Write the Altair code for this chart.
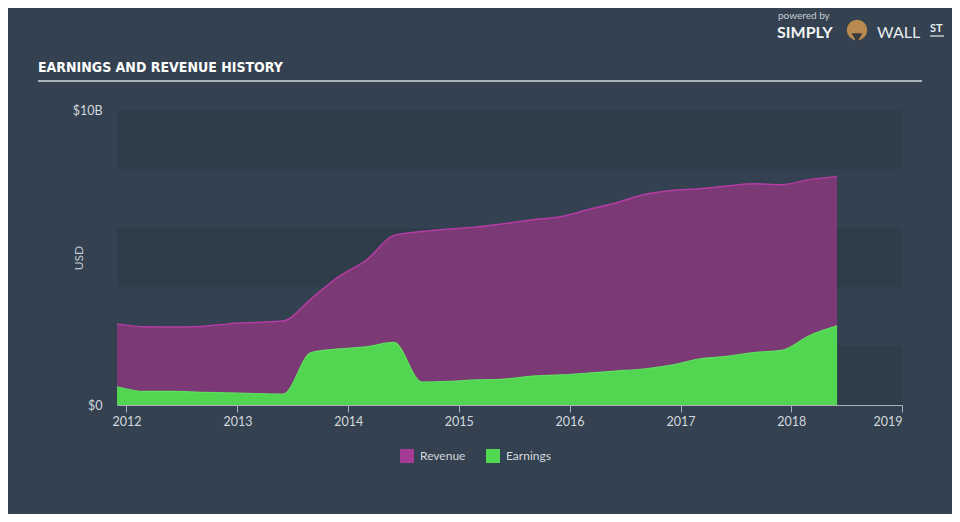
import altair as alt
import pandas as pd

# ---- data (values in billions USD) ----
dates = ["2011-12-01", "2012-03-01", "2012-06-01", "2012-09-01", "2012-12-01",
         "2013-03-01", "2013-06-01", "2013-09-01", "2013-12-01", "2014-03-01",
         "2014-06-01", "2014-09-01", "2014-12-01", "2015-03-01", "2015-06-01",
         "2015-09-01", "2015-12-01", "2016-03-01", "2016-06-01", "2016-09-01",
         "2016-12-01", "2017-03-01", "2017-06-01", "2017-09-01", "2017-12-01",
         "2018-03-01", "2018-06-01"]
revenue = [2.75, 2.65, 2.64, 2.66, 2.75, 2.80, 2.85, 3.60, 4.35, 4.90,
           5.75, 5.88, 5.97, 6.03, 6.15, 6.28, 6.38, 6.62, 6.85, 7.13,
           7.27, 7.33, 7.42, 7.50, 7.47, 7.64, 7.75]
earnings = [0.62, 0.46, 0.46, 0.43, 0.41, 0.39, 0.37, 1.78, 1.90, 1.97,
            2.12, 0.78, 0.80, 0.85, 0.88, 0.98, 1.02, 1.08, 1.15, 1.22,
            1.35, 1.56, 1.65, 1.78, 1.85, 2.35, 2.68]
series_names = ["Revenue", "Earnings"]
series_colors = ["#a33a94", "#53d853"]
band_lo = [0, 4, 8]
band_hi = [2, 6, 10]
y_ticks = [0, 10]
x_domain = ["2011-12-01", "2019-01-01"]
chart_title = "EARNINGS AND REVENUE HISTORY"

BG = "#334150"
BAND = "#2f3c4a"
FONT = "Lato, Open Sans, sans-serif"

df = pd.DataFrame({"date": pd.to_datetime(dates), "Revenue": revenue, "Earnings": earnings})
bands = pd.DataFrame({"lo": band_lo, "hi": band_hi})
legend_df = pd.DataFrame({"series": series_names, "date": pd.to_datetime([dates[0]] * 2), "v": [0, 0]})
one = legend_df.head(1)

W, H = 785, 295

x_scale = alt.Scale(domain=[pd.Timestamp(x_domain[0]).isoformat(), pd.Timestamp(x_domain[1]).isoformat()])
y_scale = alt.Scale(domain=[0, 10], nice=False)

x_axis = alt.Axis(format="%Y", tickCount={"interval": "year", "step": 1}, grid=False,
                  labelColor="#d3d8dd", labelFont=FONT, labelFontSize=12.5,
                  tickColor="#a9b1ba", domainColor="#a9b1ba", tickSize=7,
                  labelPadding=3, title=None)
y_axis = alt.Axis(values=y_ticks, labelExpr="datum.value == 0 ? '$0' : '$' + datum.value + 'B'",
                  grid=False, domain=False, ticks=False, labelPadding=15,
                  labelColor="#d3d8dd", labelFont=FONT, labelFontSize=12.5,
                  title="USD", titleColor="#c3c9cf", titleFont=FONT, titleFontSize=12,
                  titleFontWeight="normal", titleX=-32, titleAngle=-90)

band_layer = alt.Chart(bands).mark_rect(color=BAND).encode(
    x=alt.value(0), x2=alt.value("width"),
    y=alt.Y("lo:Q", scale=y_scale, axis=y_axis), y2="hi:Q")

rev_layer = alt.Chart(df).mark_area(
    interpolate="monotone", color="#7b3a76", opacity=1, fillOpacity=1,
    line={"color": "#b43ca3", "strokeWidth": 1.5, "opacity": 1}).encode(
    x=alt.X("date:T", scale=x_scale, axis=x_axis),
    y=alt.Y("Revenue:Q", scale=y_scale))

earn_layer = alt.Chart(df).mark_area(
    interpolate="monotone", color="#52d652", opacity=1, fillOpacity=1,
    line={"color": "#5ee05e", "strokeWidth": 1.2, "opacity": 1}).encode(
    x=alt.X("date:T", scale=x_scale),
    y=alt.Y("Earnings:Q", scale=y_scale))

legend_layer = alt.Chart(legend_df).mark_point(shape="square", filled=True, opacity=0).encode(
    x=alt.X("date:T", scale=x_scale),
    y=alt.Y("v:Q", scale=y_scale),
    color=alt.Color("series:N", scale=alt.Scale(domain=series_names, range=series_colors),
                    sort=series_names,
                    legend=alt.Legend(title=None, orient="none", direction="horizontal",
                                      legendX=283, legendY=339, symbolType="square",
                                      symbolSize=196, symbolOpacity=1, symbolStrokeWidth=0,
                                      labelColor="#d3d8dd", labelFont=FONT, labelFontSize=12,
                                      labelOffset=6, columnPadding=20)))

title_text = alt.Chart(one).mark_text(
    text=chart_title, align="left", baseline="middle", color="#ffffff",
    font="DejaVu Sans Condensed, sans-serif",
    fontSize=14, fontWeight="bold").encode(x=alt.value(-79), y=alt.value(-42))

title_rule = alt.Chart(one).mark_rule(color="#a9b1ba", strokeWidth=2).encode(
    x=alt.value(-79), x2=alt.value(805), y=alt.value(-29))

logo_small = alt.Chart(one).mark_text(
    text="powered by", align="left", baseline="middle", color="#c9ced3",
    font=FONT, fontSize=10).encode(x=alt.value(661), y=alt.value(-94))
logo_simply = alt.Chart(one).mark_text(
    text="SIMPLY", align="left", baseline="middle", color="#f2f4f6",
    font=FONT, fontSize=16, fontWeight="bold").encode(x=alt.value(660), y=alt.value(-77))
logo_icon = alt.Chart(one).mark_point(
    shape="circle", filled=True, color="#b98a4f", size=420, opacity=1).encode(
    x=alt.value(740), y=alt.value(-80))
logo_icon2 = alt.Chart(one).mark_point(
    shape="triangle-down", filled=True, color="#3b3b3b", size=120, opacity=1).encode(
    x=alt.value(740), y=alt.value(-72))
logo_wall = alt.Chart(one).mark_text(
    text="WALL", align="left", baseline="middle", color="#e8ebee",
    font=FONT, fontSize=16, fontWeight="normal").encode(x=alt.value(760), y=alt.value(-77))
logo_st = alt.Chart(one).mark_text(
    text="ST", align="left", baseline="middle", color="#e8ebee",
    font=FONT, fontSize=11, fontWeight="bold").encode(x=alt.value(813), y=alt.value(-81))
logo_st_rule = alt.Chart(one).mark_rule(color="#e8ebee", strokeWidth=1.2).encode(
    x=alt.value(813), x2=alt.value(827), y=alt.value(-74))

chart = alt.layer(
    band_layer, rev_layer, earn_layer, legend_layer, title_text, title_rule,
    logo_small, logo_simply, logo_icon, logo_icon2, logo_wall, logo_st, logo_st_rule
).properties(
    width=W, height=H,
    padding={"left": 109, "top": 102, "right": 50, "bottom": 109},
    autosize=alt.AutoSizeParams(type="none"),
    background=BG
).configure_view(stroke=None)

chart.save("out.html", embed_options={"renderer": "svg", "actions": False})
